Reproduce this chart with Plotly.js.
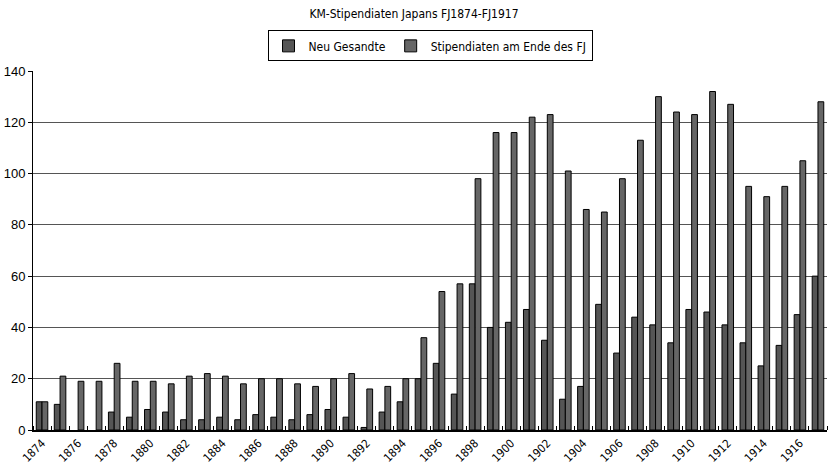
<!DOCTYPE html>
<html>
<head>
<meta charset="utf-8">
<script src="https://cdn.plot.ly/plotly-3.0.1.min.js"></script>
<style>html,body{margin:0;padding:0;background:#fff;}#chart{width:828px;height:467px;}</style>
</head>
<body>
<div id="chart"></div>
<script>
const years = [1874,1875,1876,1877,1878,1879,1880,1881,1882,1883,1884,1885,1886,1887,1888,1889,1890,1891,1892,1893,1894,1895,1896,1897,1898,1899,1900,1901,1902,1903,1904,1905,1906,1907,1908,1909,1910,1911,1912,1913,1914,1915,1916,1917];
const neuGesandte = [11,10,0,0,7,5,8,7,4,4,5,4,6,5,4,6,8,5,1,7,11,20,26,14,57,40,42,47,35,12,17,49,30,44,41,34,47,46,41,34,25,33,45,60];
const stipendiatenEnde = [11,21,19,19,26,19,19,18,21,22,21,18,20,20,18,17,20,22,16,17,20,36,54,57,98,116,116,122,123,101,86,85,98,113,130,124,123,132,127,95,91,95,105,128];
const tickYears = [1874,1876,1878,1880,1882,1884,1886,1888,1890,1892,1894,1896,1898,1900,1902,1904,1906,1908,1910,1912,1914,1916];
const seriesNames = ['Neu Gesandte','Stipendiaten am Ende des FJ'];
const chartTitle = 'KM-Stipendiaten Japans FJ1874-FJ1917';

const font = 'DejaVu Sans Condensed, Liberation Sans Narrow, sans-serif';
const outline = v => v.map(x => x === 0 ? 0 : 1);
const data = [
  {type:'bar', name:seriesNames[0], x:years, y:neuGesandte,
   marker:{color:'#555555', line:{color:'#000', width:outline(neuGesandte)}}},
  {type:'bar', name:seriesNames[1], x:years, y:stipendiatenEnde,
   marker:{color:'#666666', line:{color:'#000', width:outline(stipendiatenEnde)}}}
];
const layout = {
  width:828, height:467,
  margin:{l:33, r:1, t:71, b:37},
  paper_bgcolor:'#fff', plot_bgcolor:'#fff',
  font:{family:font, size:12, color:'#000'},
  title:{text:chartTitle, x:0.5, xanchor:'center', y:0.97, yanchor:'middle', font:{family:font, size:12}},
  barmode:'group', bargap:0.36, bargroupgap:0,
  showlegend:true,
  legend:{orientation:'h', x:0.5, xanchor:'center', y:1.07, yanchor:'middle',
    bordercolor:'#000', borderwidth:1, font:{family:font, size:12},
    itemwidth:30, tracegroupgap:0, traceorder:'normal'},
  xaxis:{type:'linear', range:[1873.5,1917.5], tickmode:'array', tickvals:tickYears,
    ticktext:tickYears.map(String), tickangle:-45, ticks:'', showgrid:false,
    showline:true, linecolor:'#000', linewidth:2, zeroline:false,
    tickfont:{family:font, size:11.5},
    minor:{tickmode:'linear', tick0:1873.5, dtick:1, ticks:'inside', ticklen:4, tickcolor:'#000', showgrid:false}},
  yaxis:{range:[0,140], dtick:20, tick0:0, showgrid:true, gridcolor:'#555', gridwidth:1,
    showline:true, linecolor:'#000', linewidth:1, ticks:'outside', ticklen:4, tickcolor:'#000',
    zeroline:false, tickfont:{family:'Liberation Sans, Arial, sans-serif', size:13}, fixedrange:true}
};
Plotly.newPlot('chart', data, layout, {displayModeBar:false, staticPlot:true});
</script>
</body>
</html>
